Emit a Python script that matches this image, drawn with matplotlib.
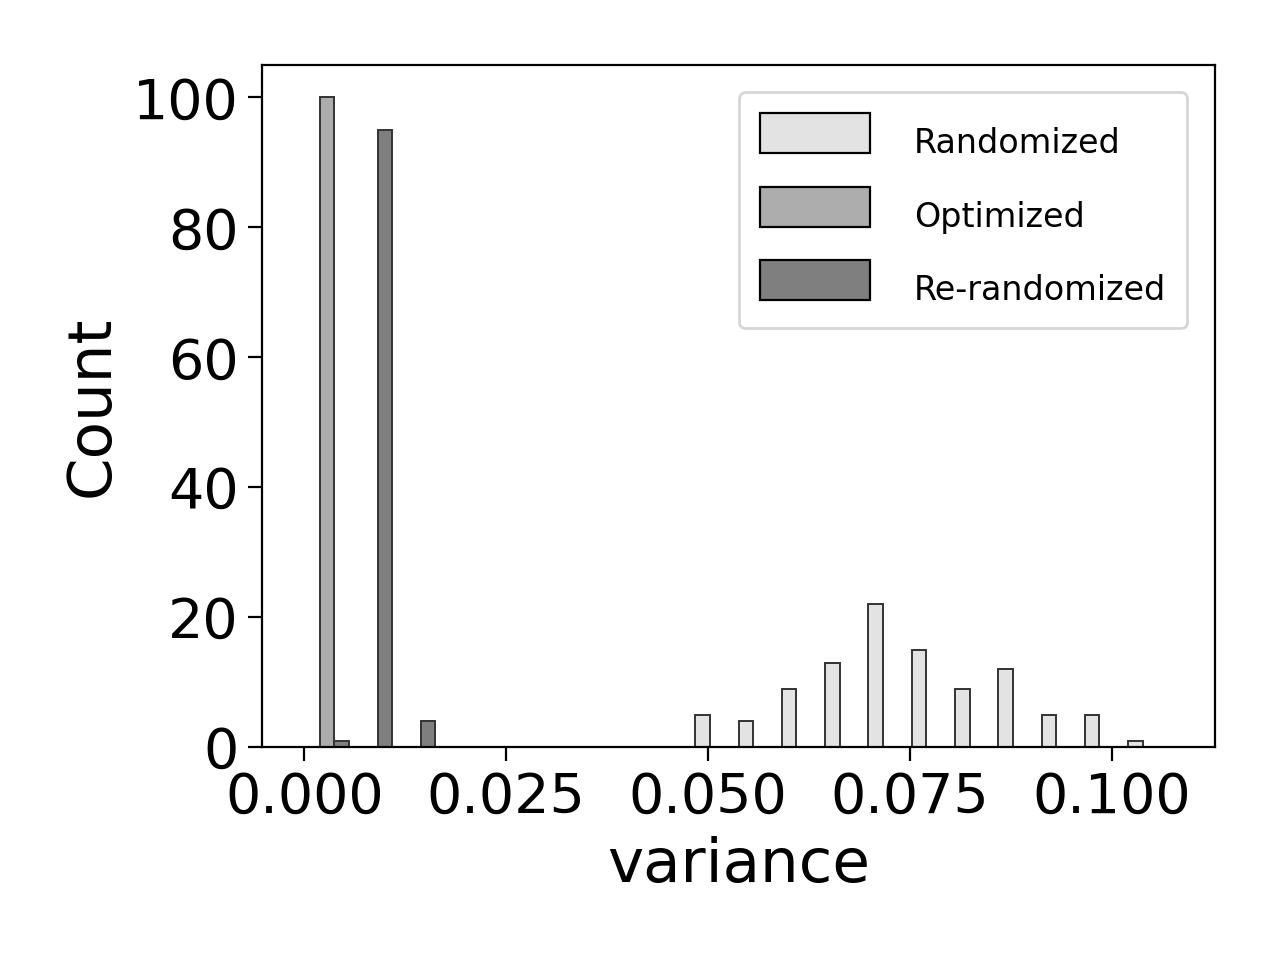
import numpy as np
import matplotlib
matplotlib.use("Agg")
import matplotlib.pyplot as plt
from matplotlib.patches import Patch, Rectangle
from matplotlib.legend_handler import HandlerPatch

# ---- data ----
series_names = ["Randomized", "Optimized", "Re-randomized"]
bin_lo = 0.000124
bin_hi = 0.10743
n_bins = 20
counts_randomized = [0, 0, 0, 0, 0, 0, 0, 0, 0, 5, 4, 9, 13, 22, 15, 9, 12, 5, 5, 1]
counts_optimized = [100, 0, 0, 0, 0, 0, 0, 0, 0, 0, 0, 0, 0, 0, 0, 0, 0, 0, 0, 0]
counts_rerandomized = [1, 95, 4, 0, 0, 0, 0, 0, 0, 0, 0, 0, 0, 0, 0, 0, 0, 0, 0, 0]
all_counts = [counts_randomized, counts_optimized, counts_rerandomized]

face_colors = ["#e3e3e3", "#adadad", "#7f7f7f"]
legend_colors = ["#e3e3e3", "#adadad", "#7f7f7f"]

fig = plt.figure(figsize=(6.4, 4.8), dpi=200)
ax = fig.add_axes([262 / 1280, 1 - 747 / 960, (1215 - 262) / 1280, (747 - 65) / 960])

edges = np.linspace(bin_lo, bin_hi, n_bins + 1)
bw = edges[1] - edges[0]
slot = bw / len(all_counts)
for i, (cnt, fc) in enumerate(zip(all_counts, face_colors)):
    cnt = np.asarray(cnt)
    mask = cnt > 0
    x = edges[:-1][mask] + i * slot
    ax.bar(x, cnt[mask], width=slot, align="edge", facecolor=fc,
           edgecolor="#333333", linewidth=0.7)

span = bin_hi - bin_lo
ax.set_xlim(bin_lo - 0.05 * span, bin_hi + 0.05 * span)
ax.set_ylim(0, 105)
ax.set_xticks([0.0, 0.025, 0.05, 0.075, 0.1])
ax.set_xticklabels(["0.000", "0.025", "0.050", "0.075", "0.100"])
ax.set_yticks([0, 20, 40, 60, 80, 100])
ax.tick_params(labelsize=20, length=5, width=0.8)
ax.set_xlabel("variance", fontsize=22)
ax.set_ylabel("Count", fontsize=22)

PATCH_H = 14.4   # points, handle rectangle height
PATCH_D = 2.5    # points, handle area descent below text baseline


def raised_rect(legend, orig_handle, xdescent, ydescent, width, height, fontsize):
    return Rectangle((-xdescent, 0), width, PATCH_H)


class BaselineHandler(HandlerPatch):
    def legend_artist(self, legend, orig_handle, fontsize, handlebox):
        handlebox.ydescent = PATCH_D
        handlebox.height = PATCH_H + PATCH_D
        return super().legend_artist(legend, orig_handle, fontsize, handlebox)


handles = [Patch(facecolor=c, edgecolor="black", linewidth=0.8) for c in legend_colors]
leg = ax.legend(handles, series_names, fontsize=12, loc="upper right",
                bbox_to_anchor=(1187 / 1280, 1 - 92 / 960),
                bbox_transform=fig.transFigure, borderaxespad=0,
                handlelength=3.3, handleheight=1.2, handletextpad=1.3,
                labelspacing=0.8, borderpad=0.63,
                handler_map={Patch: BaselineHandler(patch_func=raised_rect)})

fig.savefig("out.png", dpi=200)
